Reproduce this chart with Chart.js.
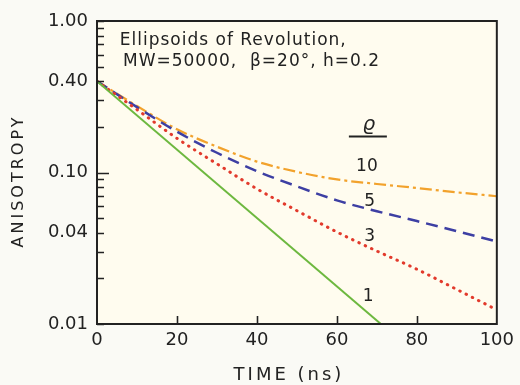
<!DOCTYPE html>
<html>
<head>
<meta charset="utf-8">
<script src="https://cdn.jsdelivr.net/npm/chart.js@4.4.1/dist/chart.umd.min.js"></script>
<style>
  html, body { margin: 0; padding: 0; background: #fafaf5; }
  canvas { display: block; }
</style>
</head>
<body>
<canvas id="chart" width="520" height="385"></canvas>
<script>
// values (anisotropy vs time, log scale)
const TIMES    = [0, 10, 20, 30, 40, 50, 60, 70, 80, 90, 100];
const R_RHO3   = [0.40, 0.26, 0.168, 0.114, 0.078, 0.056, 0.0405, 0.0303, 0.0230, 0.0169, 0.0124];
const R_RHO5   = [0.40, 0.27, 0.186, 0.135, 0.102, 0.081, 0.0655, 0.0555, 0.0478, 0.0410, 0.0350];
const R_RHO10  = [0.40, 0.275, 0.193, 0.148, 0.118, 0.101, 0.090, 0.084, 0.079, 0.074, 0.0697];
const RHO1_TIMES = [0, 71];
const R_RHO1   = [0.40, 0.01];

const Y_TICKS  = [0.01, 0.04, 0.10, 0.40, 1.00];
const Y_MINOR  = [0.02, 0.03, 0.05, 0.06, 0.07, 0.08, 0.09, 0.2, 0.3, 0.5, 0.6, 0.7, 0.8, 0.9];
const X_TICKS  = [20, 40, 60, 80];

const CURVE_LABELS = [
  { text: '10', t: 67.5, r: 0.110 },
  { text: '5',  t: 68.2, r: 0.0643 },
  { text: '3',  t: 68.2, r: 0.0377 },
  { text: '1',  t: 67.8, r: 0.0151 },
];
const NOTE_LINES = [
  { text: 'Ellipsoids of Revolution,', t: 5.7, r: 0.748 },
  { text: 'MW=50000,  \u03b2=20\u00b0, h=0.2', t: 6.5, r: 0.543 },
];

const FONT = "'DejaVu Sans', sans-serif";
const INK = '#222';

const pts = (xs, ys) => xs.map((x, i) => ({ x, y: ys[i] }));

const decor = {
  id: 'decor',
  beforeDraw(chart) {
    const { ctx, chartArea: a } = chart;
    ctx.save();
    ctx.fillStyle = '#fafaf5';
    ctx.fillRect(0, 0, chart.width, chart.height);
    ctx.fillStyle = '#fffcef';
    ctx.fillRect(a.left, a.top, a.right - a.left, a.bottom - a.top);
    ctx.restore();
  },
  afterDraw(chart) {
    const { ctx, chartArea: a, scales: { x, y } } = chart;
    ctx.save();
    ctx.strokeStyle = INK;
    ctx.lineWidth = 2;
    ctx.strokeRect(a.left, a.top, a.right - a.left, a.bottom - a.top);

    // inward ticks
    ctx.lineWidth = 1.6;
    ctx.beginPath();
    Y_MINOR.concat(Y_TICKS).forEach(v => {
      const py = Math.round(y.getPixelForValue(v)) + 0.5;
      const len = (v === 0.1) ? 12 : 7;
      ctx.moveTo(a.left, py); ctx.lineTo(a.left + len, py);
    });
    X_TICKS.forEach(v => {
      const px = Math.round(x.getPixelForValue(v)) + 0.5;
      ctx.moveTo(px, a.bottom); ctx.lineTo(px, a.bottom - 8);
    });
    ctx.stroke();

    // annotations
    ctx.fillStyle = INK;
    ctx.textBaseline = 'middle';
    ctx.font = `17px ${FONT}`;
    ctx.letterSpacing = '1px';
    ctx.textAlign = 'left';
    NOTE_LINES.forEach(n => ctx.fillText(n.text, x.getPixelForValue(n.t), y.getPixelForValue(n.r)));

    ctx.textAlign = 'center';
    ctx.letterSpacing = '0px';
    CURVE_LABELS.forEach(l => ctx.fillText(l.text, x.getPixelForValue(l.t), y.getPixelForValue(l.r)));

    // rho heading with rule
    ctx.font = `italic 20px ${FONT}`;
    ctx.fillText('\u03f1', x.getPixelForValue(68), y.getPixelForValue(0.205));
    ctx.lineWidth = 2;
    ctx.beginPath();
    const uy = y.getPixelForValue(0.173);
    ctx.moveTo(x.getPixelForValue(63), uy);
    ctx.lineTo(x.getPixelForValue(72.5), uy);
    ctx.stroke();

    // axis titles
    ctx.font = `18px ${FONT}`;
    ctx.letterSpacing = '3px';
    ctx.fillText('TIME (ns)', 289, 375);
    ctx.translate(19, 181);
    ctx.rotate(-Math.PI / 2);
    ctx.font = `16px ${FONT}`;
    ctx.fillText('ANISOTROPY', 0, 0);
    ctx.restore();
  }
};

new Chart(document.getElementById('chart'), {
  type: 'line',
  data: {
    datasets: [
      { data: pts(RHO1_TIMES, R_RHO1), borderColor: '#6db83f', borderWidth: 2 },
      { data: pts(TIMES, R_RHO3), borderColor: '#e23a2c', borderWidth: 3,
        borderDash: [0.5, 6.5], borderCapStyle: 'round' },
      { data: pts(TIMES, R_RHO5), borderColor: '#3d3fa3', borderWidth: 2.5,
        borderDash: [12, 7] },
      { data: pts(TIMES, R_RHO10), borderColor: '#f2a22c', borderWidth: 2.2,
        borderDash: [12, 4, 3, 4] },
    ]
  },
  options: {
    responsive: false,
    animation: false,
    devicePixelRatio: 1,
    layout: { padding: { top: 21, right: 20, left: 0, bottom: 0 } },
    elements: {
      point: { radius: 0 },
      line: { cubicInterpolationMode: 'monotone', fill: false }
    },
    plugins: { legend: { display: false }, tooltip: { enabled: false } },
    scales: {
      x: {
        type: 'linear', min: 0, max: 100,
        grid: { display: false, drawTicks: false },
        border: { display: false },
        ticks: { stepSize: 20, padding: 6, color: INK, font: { family: FONT, size: 18 } },
        afterFit: s => { s.height = 61; }
      },
      y: {
        type: 'logarithmic', min: 0.01, max: 1,
        grid: { display: false, drawTicks: false },
        border: { display: false },
        afterBuildTicks: s => { s.ticks = Y_TICKS.map(v => ({ value: v })); },
        ticks: { padding: 9, color: INK, font: { family: FONT, size: 18 },
                 callback: v => Number(v).toFixed(2) },
        afterFit: s => { s.width = 97; }
      }
    }
  },
  plugins: [decor]
});
</script>
</body>
</html>
